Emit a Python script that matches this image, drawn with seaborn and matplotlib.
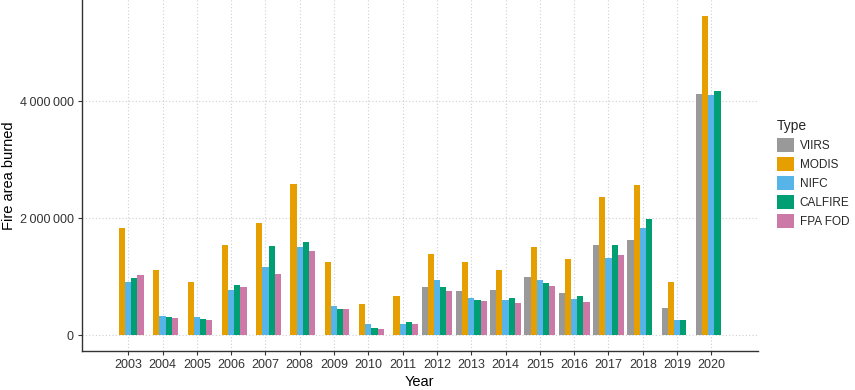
import numpy as np
import pandas as pd
import seaborn as sns
from matplotlib import pyplot as plt
from matplotlib.ticker import FuncFormatter

nan = np.nan
years = list(range(2003, 2021))
types = ["VIIRS", "MODIS", "NIFC", "CALFIRE", "FPA FOD"]
colors = ["#999999", "#E69F00", "#56B4E9", "#009E73", "#CC79A7"]

# values (acres)
viirs = [nan, nan, nan, nan, nan, nan, nan, nan, nan,
         827000, 747000, 765000, 990000, 725000, 1545000, 1620000, 456000, 4130000]
modis = [1840000, 1120000, 900000, 1545000, 1915000, 2590000, 1255000, 537000, 673000,
         1385000, 1255000, 1120000, 1500000, 1300000, 2354000, 2570000, 900000, 5460000]
nifc = [900000, 325000, 310000, 765000, 1160000, 1500000, 490000, 183000, 190000,
        935000, 633000, 593000, 935000, 610000, 1316000, 1840000, 256000, 4110000]
calfire = [970000, 310000, 275000, 860000, 1530000, 1600000, 440000, 120000, 230000,
           827000, 593000, 633000, 884000, 673000, 1545000, 1990000, 256000, 4170000]
fpa_fod = [1020000, 300000, 260000, 815000, 1040000, 1430000, 440000, 110000, 183000,
           747000, 576000, 547000, 845000, 570000, 1362000, nan, nan, nan]

series = [viirs, modis, nifc, calfire, fpa_fod]
frames = []
for name, vals in zip(types, series):
    frames.append(pd.DataFrame({"Year": years, "Area": vals, "Type": name}))
df = pd.concat(frames).dropna()

sns.set_theme(style="white")
plt.rcParams["font.family"] = ["Liberation Sans", "DejaVu Sans"]

fig = plt.figure(figsize=(8.55, 3.9), dpi=100)
ax = fig.add_axes([0.096, 0.1, 0.79, 0.9])

sns.barplot(data=df, x="Year", y="Area", hue="Type", hue_order=types,
            palette=dict(zip(types, colors)), native_scale=True, width=0.9,
            saturation=1, errorbar=None, linewidth=0, ax=ax)

ax.set_xlim(2001.655, 2021.345)
ax.set_ylim(-273000, 5733000)
ax.set_xticks(years)
ax.set_xticklabels([str(y) for y in years])
ax.set_yticks([0, 2000000, 4000000])
ax.yaxis.set_major_formatter(FuncFormatter(lambda v, p: f"{v:,.0f}".replace(",", "\u2009")))
ax.minorticks_off()

ax.set_axisbelow(True)
ax.grid(True, which="major", linestyle=(0, (1, 2)), color="#cfcfcf", linewidth=0.8)
for s in ["top", "right"]:
    ax.spines[s].set_visible(False)
for s in ["left", "bottom"]:
    ax.spines[s].set_color("#333333")
    ax.spines[s].set_linewidth(1.0)

ax.tick_params(axis="both", labelsize=9, labelcolor="#333333", colors="#333333",
               length=3, width=0.8, bottom=True, left=True, pad=3)
ax.set_xlabel("Year", fontsize=10.5, color="black", labelpad=3)
ax.set_ylabel("Fire area burned", fontsize=10.5, color="black", labelpad=3)

sns.move_legend(ax, "center left", bbox_to_anchor=(0.892, 0.555),
                bbox_transform=fig.transFigure, title="Type", frameon=False,
                fontsize=8.5, title_fontsize=10, handlelength=1.45, handleheight=1.45,
                labelspacing=0.43, handletextpad=0.5, borderpad=0.7)
leg = ax.get_legend()
leg._legend_box.align = "left"

fig.savefig("out.png", dpi=100)
